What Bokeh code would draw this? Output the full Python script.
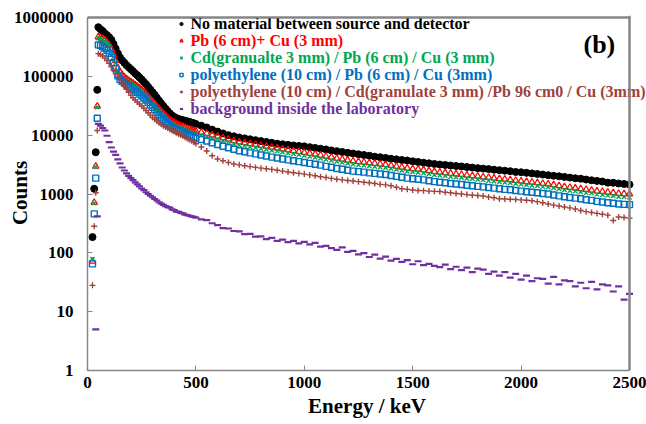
from bokeh.plotting import figure
from bokeh.models import Range1d, FixedTicker, PrintfTickFormatter, Label, Legend, LegendItem, Span, BoxAnnotation
from bokeh.embed import file_html
from bokeh.resources import INLINE

# ---------------- data ----------------
energy_pre = [23, 31, 38, 45]                                   # keV, channels before the peak
energy_main = list(range(50, 500, 10)) + list(range(500, 2501, 25))  # keV channel grid
purple_energy_pre = [38, 45]

black_pre = [185, 1230, 5130, 59000]
black_main = [684000, 631000, 589000, 537000, 501000, 462000, 417000, 355000, 295000, 245000,
              209000, 186000, 170000, 155000, 143000, 132000, 122000, 112000, 104000, 95500,
              88100, 80400, 73300, 66100, 59600, 53700, 48400, 43200, 38500, 34700,
              31300, 28200, 25700, 23400, 21600, 20400, 19500, 18800, 18400, 18000,
              17600, 17200, 16800, 16400, 16000,
              15500, 14500, 13500, 12400, 11500, 10700, 10000, 9550, 9120, 8810, 8510,
              8220, 7940, 7670, 7410, 7160, 7000, 6840, 6680, 6560, 6460,
              6250, 6070, 5870, 5720, 5510, 5340, 5180, 5010,
              4870, 4730, 4600, 4470, 4310, 4220, 4100, 3980,
              3880, 3780, 3710, 3590, 3500, 3400, 3320, 3240,
              3170, 3110, 3050, 2990, 2940, 2870, 2810, 2750,
              2700, 2650, 2590, 2540, 2490, 2440, 2370, 2340,
              2290, 2240, 2190, 2140, 2090, 2040, 2000, 1950,
              1900, 1850, 1820, 1760, 1710, 1670, 1630, 1560,
              1550, 1510, 1480, 1450]

red_pre = [72, 716, 2950, 31000]
red_main = [468000, 457000, 437000, 412000, 380000, 339000, 288000, 234000, 186000, 138000,
            117000, 107000, 97700, 91200, 85100, 80400, 75900, 71600, 67600, 63100,
            58900, 54300, 50100, 45700, 41200, 37600, 34300, 30900, 28200, 25700,
            23400, 21400, 19700, 18400, 17400, 16400, 15700, 15000, 14500, 14000,
            13500, 13000, 12600, 12300, 12000,
            11700, 11200, 10700, 10100, 9550, 9020, 8510, 8040, 7670, 7410, 7160,
            6920, 6680, 6460, 6240, 6030, 5820, 5620, 5430, 5250, 5070,
            4900, 4730, 4570, 4370, 4220, 4030, 3890, 3760,
            3630, 3550, 3470, 3390, 3310, 3240, 3160, 3050,
            2950, 2850, 2750, 2690, 2630, 2570, 2480, 2400,
            2340, 2290, 2240, 2190, 2140, 2090, 2040, 2000,
            1950, 1910, 1860, 1820, 1780, 1740, 1700, 1660,
            1620, 1580, 1550, 1510, 1480, 1430, 1380, 1330,
            1290, 1260, 1230, 1190, 1160, 1120, 1100, 1070,
            1050, 1020, 1010, 1000]

green_pre = [78, 700, 2900, 30000]
green_main = [445000, 434000, 415000, 391000, 361000, 322000, 265000, 215000, 171000, 127000,
              108000, 98400, 89900, 83900, 78300, 74000, 69800, 65900, 62200, 58100,
              54200, 50000, 46100, 42000, 37900, 34600, 30400, 27300, 25000, 22700,
              20700, 18900, 17400, 16300, 15400, 14500, 13900, 13300, 12800, 12400,
              11900, 11500, 11200, 10900, 10600,
              10400, 9910, 9470, 8940, 8450, 7980, 7530, 7120, 6790, 6560, 6340,
              6120, 5910, 5720, 5520, 5340, 5150, 4970, 4810, 4650, 4490,
              4340, 4190, 4040, 3870, 3730, 3570, 3440, 3330,
              3210, 3140, 3070, 3000, 2930, 2870, 2800, 2700,
              2610, 2520, 2430, 2380, 2330, 2270, 2190, 2120,
              2070, 2030, 1980, 1940, 1890, 1850, 1810, 1770,
              1730, 1690, 1650, 1610, 1580, 1540, 1500, 1470,
              1430, 1400, 1370, 1340, 1310, 1270, 1220, 1180,
              1140, 1120, 1090, 1050, 1030, 990, 970, 950,
              930, 900, 890, 880]

blue_pre = [65, 460, 1860, 19400]
blue_main = [342000, 334000, 319000, 301000, 277000, 247000, 210000, 171000, 136000, 102000,
             87800, 82400, 77200, 72000, 67200, 63500, 60000, 56600, 53400, 49800,
             46500, 42900, 39600, 36100, 32500, 29700, 27100, 24400, 22300, 20300,
             18500, 16900, 15600, 14500, 13700, 13000, 12400, 11900, 11500, 11100,
             10700, 10200, 9830, 9530, 9240,
             8950, 8460, 7970, 7420, 6920, 6490, 6100, 5750, 5450, 5220, 5010,
             4810, 4610, 4430, 4240, 4080, 3930, 3800, 3670, 3550, 3430,
             3310, 3200, 3090, 2950, 2850, 2720, 2630, 2540,
             2450, 2400, 2350, 2290, 2240, 2190, 2140, 2060,
             1990, 1930, 1860, 1820, 1780, 1740, 1680, 1620,
             1580, 1550, 1510, 1480, 1450, 1410, 1380, 1350,
             1320, 1290, 1260, 1230, 1200, 1180, 1150, 1120,
             1090, 1070, 1050, 1020, 1000, 960, 930, 900,
             870, 850, 830, 800, 780, 750, 730, 710,
             695, 675, 665, 660]

brown_pre = [28, 283, 1050, 12000]
brown_main = [243000, 234000, 221000, 204000, 186000, 166000, 145000, 126000, 110000, 97700,
              87100, 76700, 67600, 60300, 53700, 47900, 43200, 39800, 36700, 33900,
              31300, 28800, 26300, 24000, 21900, 20000, 18600, 17400, 16200, 15300,
              14500, 13800, 13200, 12600, 12000, 11500, 11000, 10500, 10100, 9660,
              9230, 8810, 8410, 8040, 7590,
              7160, 6310, 5370, 4470, 3940, 3670, 3430, 3240, 3130, 3020, 2920,
              2830, 2750, 2690, 2620, 2540, 2450, 2370, 2300, 2240, 2180,
              2110, 2040, 1970, 1910, 1840, 1780, 1740, 1700,
              1660, 1620, 1580, 1550, 1510, 1460, 1430, 1380,
              1300, 1230, 1200, 1170, 1150, 1140, 1120, 1110,
              1100, 1070, 1050, 1020, 1000, 977, 955, 944,
              923, 891, 861, 832, 822, 813, 804, 794,
              785, 767, 741, 708, 676, 646, 624, 603,
              582, 556, 525, 501, 484, 468, 452, 437,
              355, 407, 398, 389]

purple_pre = [5, 415]
purple_main = [15500, 14500, 13200, 12000, 9770, 7590, 6170, 5250, 4620, 3890,
               3310, 2820, 2510, 2240, 2040, 1860, 1720, 1580, 1460, 1350,
               1240, 1160, 1070, 1000, 933, 881, 822, 776, 724, 684,
               653, 624, 596, 585, 550, 531, 500, 495, 479, 470,
               447, 437, 427, 417, 407,
               398, 370, 360, 318, 296, 262, 259, 235, 231, 208, 210,
               189, 190, 171, 179, 160, 168, 152, 160, 145, 153,
               139, 148, 128, 131, 120, 112, 124, 104,
               108, 94, 99, 85, 93, 80, 86, 74,
               79, 70, 75, 64, 72, 62, 65, 60,
               57, 63, 53, 58, 51, 56, 47, 54,
               52, 44, 48, 41, 47, 38, 44, 35,
               41, 33, 37, 36, 30, 39, 29, 34,
               33, 27, 31, 25, 32, 24, 29, 28,
               22, 27, 16, 20]

labels = ["No material between source and detector",
          "Pb (6 cm)+ Cu (3 mm)",
          "Cd(granualte 3 mm) / Pb (6 cm) / Cu (3 mm)",
          "polyethylene (10 cm) / Pb (6 cm) / Cu (3mm)",
          "polyethylene (10 cm) /  Cd(granulate 3 mm) /Pb 96 cm0 / Cu (3mm)",
          "background inside the laboratory"]

x_ticks = [0, 500, 1000, 1500, 2000, 2500]
y_ticks = [1, 10, 100, 1000, 10000, 100000, 1000000]
x_min, x_max = 0, 2500
y_min, y_max = 1, 1000000

# ---------------- styles ----------------
BLACK, RED, GREEN, BLUE, BROWN, PURPLE = "#000000", "#FF0000", "#00A650", "#0070C0", "#A0423D", "#7030A0"
FONT = "Liberation Serif"
GRAY = "#868686"

# the drawing area runs on to the right edge of the page so that the long legend
# line can pass over the right border, as in the original; the border itself
# is drawn at x_max / y_max.
FRAME_W = 646 - 87
x_end = x_max * FRAME_W / (629 - 87)
y_end = y_max * 10 ** (2.0 / 58.8)     # 2 px of head room above the top border
px_x = x_end / FRAME_W                 # one pixel in keV
px_y = 10 ** (1.0 / 58.8)              # one pixel as a factor on the log axis

p = figure(width=646, height=424, output_backend="svg", toolbar_location=None,
           x_range=Range1d(x_min, x_end), y_range=Range1d(y_min, y_end), y_axis_type="log",
           min_border_left=87, min_border_right=0, min_border_top=15, min_border_bottom=54,
           background_fill_color="white", border_fill_color="white")

r_black = p.scatter(energy_pre + energy_main, black_pre + black_main, marker="circle",
                    size=7, fill_color=BLACK, line_color=BLACK)
r_red = p.scatter(energy_pre + energy_main, red_pre + red_main, marker="triangle",
                  size=6.5, fill_color=None, line_color=RED, line_width=1.2)
r_green = p.scatter(energy_pre + energy_main, green_pre + green_main, marker="x",
                    size=6, line_color=GREEN, line_width=1.4)
r_blue = p.scatter(energy_pre + energy_main, blue_pre + blue_main, marker="square",
                   size=6, fill_color=None, line_color=BLUE, line_width=1.4)
r_brown = p.scatter(energy_pre + energy_main, brown_pre + brown_main, marker="cross",
                    size=6, line_color=BROWN, line_width=1.4)
r_purple = p.scatter(purple_energy_pre + energy_main, purple_pre + purple_main, marker="dash",
                     size=7, line_color=PURPLE, line_width=2.2)

# plot-area border on the right and top (2 px gray strips)
p.add_layout(BoxAnnotation(left=x_max - px_x, right=x_max + px_x, bottom=y_min, top=y_max * px_y,
                           fill_color=GRAY, fill_alpha=1.0, line_alpha=0, level="overlay"))
p.add_layout(BoxAnnotation(left=x_min, right=x_max + px_x, bottom=y_max / px_y, top=y_max * px_y,
                           fill_color=GRAY, fill_alpha=1.0, line_alpha=0, level="overlay"))
p.add_layout(Span(location=x_max, dimension="height", line_color=GRAY, line_width=2))
p.line([x_min, x_max], [y_max, y_max], line_color=GRAY, line_width=2)

renderers = [r_black, r_red, r_green, r_blue, r_brown, r_purple]
colors = [BLACK, RED, GREEN, BLUE, BROWN, PURPLE]

# one legend holding only the marker symbols; the coloured texts are separate labels
legend = Legend(items=[LegendItem(label=" ", renderers=[r]) for r in renderers],
                location=(90, 253), label_text_font_size="8px",
                background_fill_alpha=0, border_line_alpha=0,
                padding=0, margin=0, spacing=0, glyph_width=8, glyph_height=17,
                label_standoff=0, label_width=1, label_height=17)
p.add_layout(legend)

row_y = [347, 330, 313, 296, 279, 262]   # legend row centres, px above the frame bottom
for lab, c, yc in zip(labels, colors, row_y):
    p.add_layout(Label(x=103, y=yc, x_units="screen", y_units="screen", text=lab,
                       text_font=FONT, text_font_style="bold", text_font_size="16px",
                       text_baseline="middle", text_color=c))

p.add_layout(Label(x=496, y=326, x_units="screen", y_units="screen", text="(b)",
                   text_font=FONT, text_font_style="bold", text_font_size="26px",
                   text_baseline="middle", text_color="black"))

p.xgrid.grid_line_color = None
p.ygrid.grid_line_color = None
p.outline_line_color = None

p.xaxis.ticker = FixedTicker(ticks=x_ticks)
p.xaxis.bounds = (x_min, x_max)
p.yaxis.ticker = FixedTicker(ticks=y_ticks)
p.yaxis.bounds = (y_min, y_max)
p.yaxis.formatter = PrintfTickFormatter(format="%d")
for ax in (p.xaxis, p.yaxis):
    ax.axis_line_color = GRAY
    ax.axis_line_width = 1.5
    ax.major_tick_line_color = GRAY
    ax.major_tick_in = 5
    ax.major_tick_out = 0
    ax.minor_tick_line_color = None
    ax.major_label_text_font = FONT
    ax.major_label_text_font_style = "bold"
    ax.major_label_text_font_size = "17px"
    ax.major_label_text_color = "black"
    ax.axis_label_text_font = FONT
    ax.axis_label_text_font_style = "bold"
    ax.axis_label_text_font_size = "21px"
    ax.axis_label_text_color = "black"

p.xaxis.axis_label = "Energy / keV"
p.yaxis.axis_label = "Counts"
p.xaxis.major_label_standoff = 6
p.xaxis.axis_label_standoff = 3
p.yaxis.major_label_standoff = 14
p.yaxis.axis_label_standoff = -21

open("out.html", "w").write(file_html(p, INLINE))
